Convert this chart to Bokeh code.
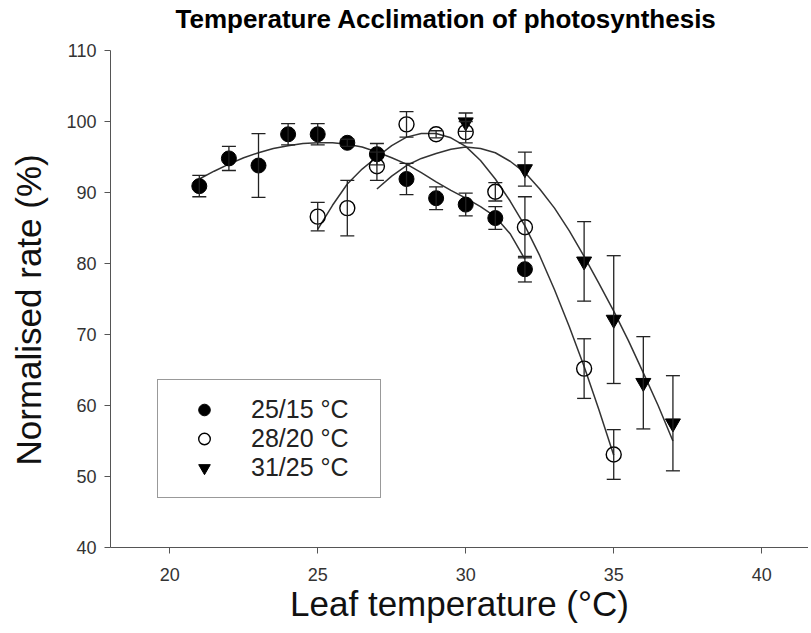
from bokeh.plotting import figure
from bokeh.models import (ColumnDataSource, Whisker, TeeHead, Legend, LegendItem,
                          Title, FixedTicker, Range1d)
from bokeh.embed import file_html
from bokeh.resources import INLINE

# ---------------- data ----------------
title_text = "Temperature Acclimation of photosynthesis"
x_title = "Leaf temperature (°C)"
y_title = "Normalised rate (%)"
series_names = ["25/15 °C", "28/20 °C", "31/25 °C"]
x_ticks = [20, 25, 30, 35, 40]
y_ticks = [40, 50, 60, 70, 80, 90, 100, 110]

# 25/15 °C (filled circles)
t_a = [21, 22, 23, 24, 25, 26, 27, 28, 29, 30, 31, 32]
r_a = [90.9, 94.8, 93.8, 98.2, 98.2, 97.0, 95.4, 91.9, 89.2, 88.3, 86.4, 79.2]
e_a = [1.5, 1.7, 4.5, 1.5, 1.5, 0.5, 1.5, 2.2, 1.6, 1.6, 1.6, 1.8]

# 28/20 °C (open circles)
t_b = [25, 26, 27, 28, 29, 30, 31, 32, 34, 35]
r_b = [86.6, 87.8, 93.7, 99.6, 98.2, 98.5, 90.1, 85.1, 65.2, 53.1]
e_b = [2.0, 3.9, 2.0, 1.8, 0.5, 1.5, 1.3, 4.3, 4.2, 3.5]

# 31/25 °C (inverted triangles)
t_c = [30, 32, 34, 35, 36, 37]
r_c = [99.9, 93.3, 80.3, 72.1, 63.2, 57.5]
e_c = [1.3, 2.4, 5.6, 9.0, 6.5, 6.7]

# fitted curves
fit_a_t = [21, 21.5, 22, 22.5, 23, 23.5, 24, 24.5, 25, 25.5, 26, 26.5, 27, 27.5,
           28, 28.5, 29, 29.5, 30, 30.5, 31, 31.5, 32]
fit_a_r = [91.9, 93.0, 94.0, 94.9, 95.6, 96.2, 96.6, 96.9, 97.0, 97.0, 96.8, 96.4,
           95.7, 94.9, 94.0, 92.8, 91.5, 90.3, 89.2, 88.0, 86.6, 84.2, 80.6]

fit_b_t = [25, 25.5, 26, 26.5, 27, 27.5, 28, 28.5, 29, 29.5, 30, 30.5, 31, 31.5,
           32, 32.5, 33, 33.5, 34, 34.5, 35]
fit_b_r = [84.8, 88.2, 91.2, 93.3, 95.0, 96.6, 97.8, 98.3, 98.3, 97.7, 96.5, 94.5,
           91.9, 88.8, 85.3, 81.1, 76.3, 71.1, 65.5, 59.4, 53.0]

fit_c_t = [27, 27.5, 28, 28.5, 29, 29.5, 30, 30.5, 31, 31.5, 32, 32.5, 33, 33.5,
           34, 34.5, 35, 35.5, 36, 36.5, 37]
fit_c_r = [90.5, 92.3, 93.8, 94.8, 95.5, 96.1, 96.4, 96.2, 95.6, 94.4, 92.8, 90.5,
           87.8, 84.6, 81.0, 77.2, 73.3, 69.1, 64.6, 60.0, 55.0]

# ---------------- figure ----------------
FONT = "Liberation Sans"
INK = "#222222"
AXIS = "#555555"

p = figure(width=808, height=630, output_backend="svg", toolbar_location=None,
           x_range=Range1d(18.0, 41.58), y_range=Range1d(40, 110),
           min_border_left=110, min_border_top=50, min_border_bottom=83,
           min_border_right=0)
p.outline_line_color = None
p.xgrid.visible = False
p.ygrid.visible = False
p.background_fill_color = "white"
p.border_fill_color = "white"

for ax, ticks in ((p.xaxis[0], x_ticks), (p.yaxis[0], y_ticks)):
    ax.ticker = FixedTicker(ticks=ticks, minor_ticks=[])
    ax.axis_line_color = AXIS
    ax.axis_line_width = 1
    ax.major_tick_line_color = AXIS
    ax.major_tick_out = 6
    ax.major_tick_in = 0
    ax.minor_tick_line_color = None
    ax.major_label_text_font = FONT
    ax.major_label_text_font_size = "18px"
    ax.major_label_text_color = "#333333"
    ax.axis_label_text_font = FONT
    ax.axis_label_text_font_style = "normal"
    ax.axis_label_text_font_size = "35px"
    ax.axis_label_text_color = "#111111"

p.xaxis.axis_label = x_title
p.xaxis.major_label_standoff = 14
p.xaxis.axis_label_standoff = 0
p.yaxis.major_label_standoff = 8

# fitted curves
for xs, ys in ((fit_a_t, fit_a_r), (fit_b_t, fit_b_r), (fit_c_t, fit_c_r)):
    p.line(xs, ys, line_color="#333333", line_width=1.5)

# error bars
for ts, rs, es in ((t_a, r_a, e_a), (t_b, r_b, e_b), (t_c, r_c, e_c)):
    src = ColumnDataSource(dict(t=ts,
                                lo=[r - e for r, e in zip(rs, es)],
                                hi=[r + e for r, e in zip(rs, es)]))
    w = Whisker(base="t", lower="lo", upper="hi", source=src,
                line_color=INK, line_width=1.3, level="glyph",
                upper_head=TeeHead(size=14, line_color=INK, line_width=1.3),
                lower_head=TeeHead(size=14, line_color=INK, line_width=1.3))
    p.add_layout(w)

r1 = p.scatter(t_a, r_a, marker="circle", size=15, fill_color="black", line_color="black")
r2 = p.scatter(t_b, r_b, marker="circle", size=15, fill_color=None, line_color="black",
               line_width=1.4)
r3 = p.scatter(t_c, r_c, marker="inverted_triangle", size=15, fill_color="black",
               line_color="black")

legend = Legend(items=[LegendItem(label=series_names[0], renderers=[r1]),
                       LegendItem(label=series_names[1], renderers=[r2]),
                       LegendItem(label=series_names[2], renderers=[r3])],
                location=(47, 49), orientation="vertical",
                border_line_color="#333333", border_line_width=1,
                background_fill_color="white", background_fill_alpha=1,
                label_text_font=FONT, label_text_font_size="25px",
                label_text_color="#222222",
                glyph_width=62, glyph_height=29, label_height=29, label_width=114,
                label_standoff=16, padding=15, spacing=0, margin=0)
p.add_layout(legend)

p.add_layout(Title(text=title_text, align="left", offset=65, vertical_align="bottom",
                   text_font=FONT, text_font_style="bold", text_font_size="26px",
                   text_color="black", standoff=0,
                   padding=dict(left=0, right=0, top=0, bottom=17)), "above")

p.add_layout(Title(text=y_title, align="left", offset=82, vertical_align="bottom",
                   text_font=FONT, text_font_style="normal", text_font_size="35px",
                   text_color="#111111", standoff=0,
                   padding=dict(left=0, right=0, top=0, bottom=16)), "left")

open("out.html", "w").write(file_html(p, INLINE))
